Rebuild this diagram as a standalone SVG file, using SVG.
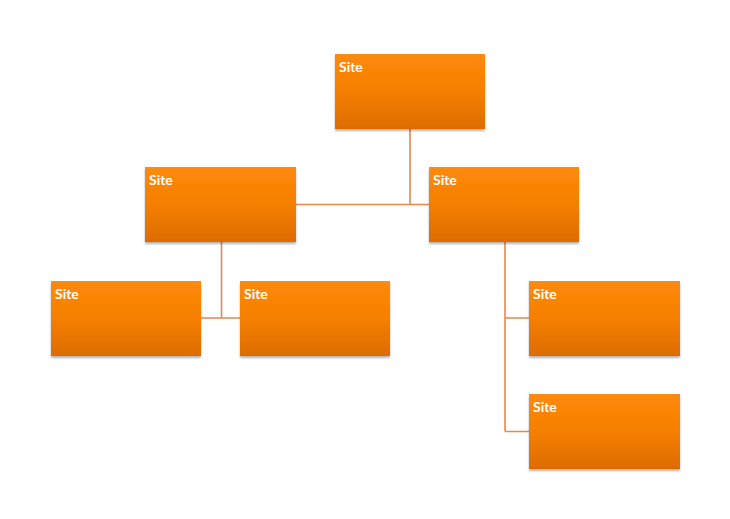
<svg xmlns="http://www.w3.org/2000/svg" width="730" height="519" viewBox="0 0 730 519">
<style>
.node{fill:url(#g);filter:url(#sh)}
.lbl{font-family:Lato,"Liberation Sans",Arial,sans-serif;font-weight:bold;font-size:14px;fill:#ffffff}
.conn{stroke:#E8884A;stroke-width:1.6;fill:none}
</style>
<defs>
<linearGradient id="g" x1="0" y1="0" x2="0" y2="1">
<stop offset="0" stop-color="#FF8A0A"/>
<stop offset="0.5" stop-color="#F57F00"/>
<stop offset="1" stop-color="#DD6C00"/>
</linearGradient>
<filter id="sh" x="-5%" y="-5%" width="115%" height="120%">
<feGaussianBlur in="SourceAlpha" stdDeviation="1.2"/>
<feOffset dx="0" dy="2" result="b"/>
<feComponentTransfer><feFuncA type="linear" slope="0.3"/></feComponentTransfer>
<feMerge><feMergeNode/><feMergeNode in="SourceGraphic"/></feMerge>
</filter>
</defs>
<rect width="730" height="519" fill="#ffffff"/>
<g id="connectors">
<path class="conn" d="M410,129 V204.5 M296,204.5 H429"/>
<path class="conn" d="M221.5,242 V318 M201,318 H240"/>
<path class="conn" d="M505,242 V431.5 M505,318 H529 M505,431.5 H529"/>
</g>
<g id="n1"><rect class="node" x="335" y="54" width="150" height="75"/><text class="lbl" x="339" y="72">Site</text></g>
<g id="n2"><rect class="node" x="145" y="167" width="151" height="75"/><text class="lbl" x="149" y="185">Site</text></g>
<g id="n3"><rect class="node" x="429" y="167" width="150" height="75"/><text class="lbl" x="433" y="185">Site</text></g>
<g id="n4"><rect class="node" x="51" y="281" width="150" height="75"/><text class="lbl" x="55" y="299">Site</text></g>
<g id="n5"><rect class="node" x="240" y="281" width="150" height="75"/><text class="lbl" x="244" y="299">Site</text></g>
<g id="n6"><rect class="node" x="529" y="281" width="151" height="75"/><text class="lbl" x="533" y="299">Site</text></g>
<g id="n7"><rect class="node" x="529" y="394" width="151" height="75"/><text class="lbl" x="533" y="412">Site</text></g>
</svg>
